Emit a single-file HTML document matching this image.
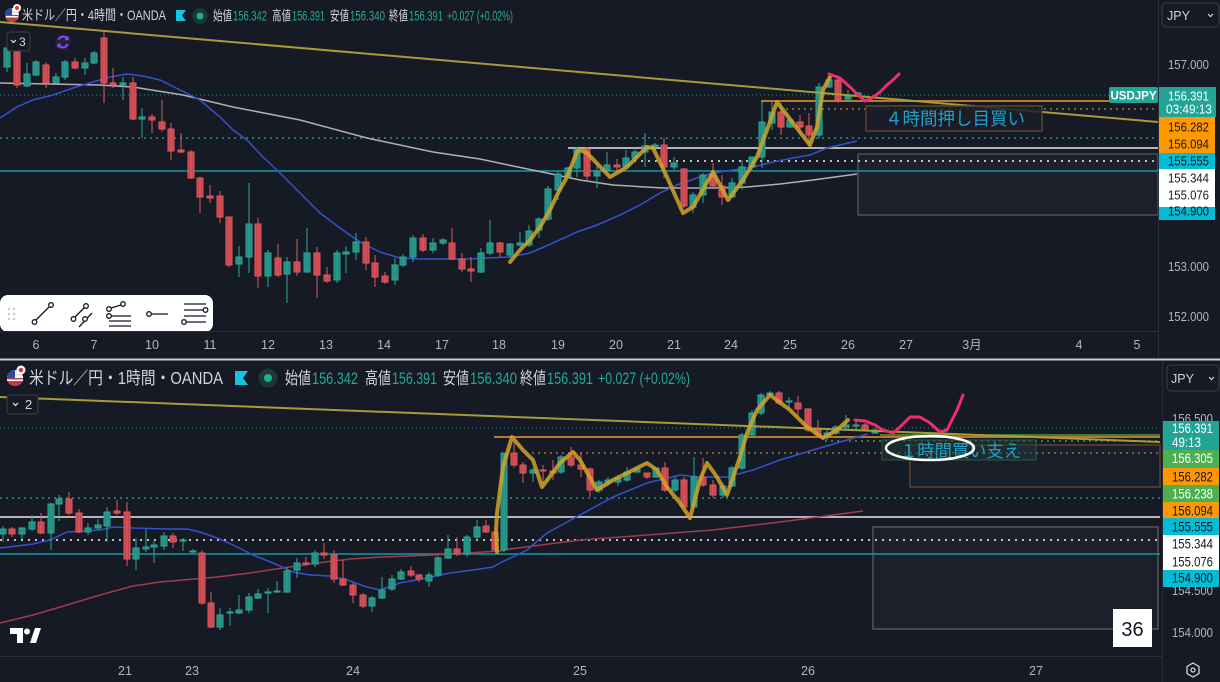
<!DOCTYPE html>
<html><head><meta charset="utf-8"><style>
html,body{margin:0;padding:0;background:#161a25;}
svg{display:block;}
text{font-family:"Liberation Sans","Noto Sans CJK JP",sans-serif;}
</style></head><body>
<svg width="1220" height="682" viewBox="0 0 1220 682" xmlns="http://www.w3.org/2000/svg">
<defs>
<clipPath id="ct"><rect x="0" y="0" width="1158" height="331"/></clipPath>
<clipPath id="cb"><rect x="0" y="361" width="1161" height="295"/></clipPath>
</defs>
<rect width="1220" height="682" fill="#161a25"/>

<!-- ================= TOP PANE ================= -->
<g clip-path="url(#ct)">
<rect x="858" y="154" width="300" height="61" fill="#1c202b" stroke="#4c505a" stroke-width="1.5"/>
<line x1="0" y1="95" x2="1158" y2="95" stroke="#2a8a85" stroke-width="1" stroke-dasharray="1 3"/>
<line x1="761" y1="101" x2="1158" y2="101" stroke="#b8782a" stroke-width="2"/>
<line x1="780" y1="109" x2="1158" y2="109" stroke="#a8703a" stroke-width="1.5" stroke-dasharray="2 4"/>
<line x1="0" y1="138" x2="1158" y2="138" stroke="#1f9690" stroke-width="1.5" stroke-dasharray="2 4"/>
<line x1="568" y1="148" x2="1158" y2="148" stroke="#b4b4b8" stroke-width="2"/>
<line x1="634" y1="161" x2="1158" y2="161" stroke="#c0c0c4" stroke-width="2" stroke-dasharray="2 5"/>
<line x1="0" y1="171" x2="1158" y2="171" stroke="#1a93a3" stroke-width="1.5"/>
<polyline fill="none" stroke="#b0b0b4" stroke-width="1.5" points="0,83 100,85 133,87 183,95 233,107 300,120 367,138 433,152 480,159 513,166 547,173 580,180 613,185 663,188 713,188 747,187 780,184 813,180 857,174"/>
<polyline fill="none" stroke="#3352cc" stroke-width="1.5" points="0,118 17,107 33,100 53,95 73,88 93,82 110,77 127,74 143,76 160,80 180,90 200,100 220,117 233,130 247,140 263,157 280,173 300,193 320,213 340,228 360,242 380,252 400,258 420,259 443,259 467,259 487,258 510,257 530,253 553,243 577,232 597,225 620,215 640,205 660,193 677,185 697,178 713,173 733,170 753,167 773,162 793,158 810,155 827,148 857,141"/>
<path fill="#1f8c80" stroke="#33a597" stroke-width="1" d="M7 48V72M4 48h6v19h-6zM27 63V87M24 74h6v12h-6zM36 60V76M33 62h6v13h-6zM56 73V84M53 77h6v6h-6zM65 60V80M62 62h6v15h-6zM85 58V75M82 63h6v5h-6zM94 51V64M91 53h6v10h-6zM123 77V100M120 83h6v2h-6zM142 108V138M139 117h6v2h-6zM239 246V277M236 257h6v7h-6zM249 183V273M246 224h6v33h-6zM268 250V287M265 253h6v23h-6zM287 257V303M284 262h6v12h-6zM307 228V273M304 253h6v19h-6zM337 250V283M334 253h6v27h-6zM346 246V273M343 252h6v2h-6zM356 233V260M353 242h6v10h-6zM395 258V285M392 265h6v15h-6zM403 254V267M400 257h6v8h-6zM413 235V262M410 238h6v19h-6zM433 238V253M430 243h6v7h-6zM443 238V245M440 240h6v3h-6zM481 248V273M478 253h6v19h-6zM490 220V255M487 243h6v10h-6zM510 243V258M507 244h6v11h-6zM520 232V247M517 243h6v2h-6zM529 225V247M526 231h6v14h-6zM539 217V238M536 219h6v11h-6zM548 186V221M545 189h6v30h-6zM558 171V200M555 174h6v16h-6zM568 167V178M565 168h6v9h-6zM577 147V177M574 149h6v19h-6zM597 164V188M594 171h6v5h-6zM607 152V173M604 165h6v6h-6zM626 150V167M623 158h6v8h-6zM635 148V160M632 152h6v6h-6zM645 133V167M642 146h6v6h-6zM655 143V150M652 145h6v2h-6zM674 157V170M671 163h6v4h-6zM693 192V213M690 195h6v12h-6zM703 173V203M700 175h6v20h-6zM732 178V198M729 183h6v14h-6zM742 160V190M739 167h6v16h-6zM752 157V170M749 157h6v10h-6zM762 101V168M759 122h6v35h-6zM772 102V130M769 112h6v11h-6zM790 118V128M787 120h6v7h-6zM819 83V139M816 87h6v48h-6zM829 76V88M826 80h6v7h-6zM848 90V101M845 96h6v3h-6zM858 92V97M855 93h6v3h-6z"/>
<path fill="#c4464c" stroke="#df5a5f" stroke-width="1" d="M17 50V88M14 52h6v33h-6zM46 62V88M43 65h6v18h-6zM75 58V69M72 62h6v6h-6zM104 32V103M101 38h6v45h-6zM113 68V88M110 83h6v2h-6zM133 77V120M130 83h6v36h-6zM152 114V133M149 117h6v3h-6zM162 100V132M159 122h6v7h-6zM171 123V160M168 129h6v22h-6zM181 133V153M178 150h6v2h-6zM191 150V179M188 152h6v26h-6zM200 177V213M197 178h6v19h-6zM210 185V203M207 196h6v2h-6zM220 191V223M217 196h6v21h-6zM229 217V267M226 217h6v48h-6zM258 218V288M255 224h6v52h-6zM278 244V277M275 258h6v17h-6zM297 239V276M294 262h6v10h-6zM317 247V298M314 253h6v22h-6zM327 267V283M324 275h6v6h-6zM366 237V270M363 242h6v21h-6zM375 255V287M372 263h6v14h-6zM385 272V284M382 276h6v6h-6zM423 234V252M420 238h6v12h-6zM452 228V260M449 243h6v16h-6zM462 253V272M459 259h6v10h-6zM471 257V282M468 269h6v2h-6zM500 242V257M497 243h6v9h-6zM587 147V180M584 149h6v27h-6zM617 159V172M614 165h6v2h-6zM664 138V178M661 145h6v22h-6zM684 168V208M681 169h6v37h-6zM713 163V188M710 175h6v11h-6zM722 175V205M719 186h6v11h-6zM781 103V135M778 112h6v15h-6zM800 115V135M797 122h6v5h-6zM809 113V146M806 126h6v9h-6zM838 78V103M835 80h6v20h-6z"/>
<line x1="0" y1="22" x2="1158" y2="122" stroke="#a69c38" stroke-width="2"/>
<polyline fill="none" stroke="#d0a428" stroke-opacity="0.85" stroke-width="4" stroke-linejoin="round" stroke-linecap="round" points="510,262 520,250 530,240 540,227 550,210 558,193 567,177 577,152 580,150 587,153 610,177 627,167 647,147 653,148 667,177 683,213 693,207 713,172 728,200 743,180 757,157 767,130 777,102 793,123 810,145 817,127 823,90 830,77"/>
<polyline fill="none" stroke="#ef2d6a" stroke-width="3" stroke-linejoin="round" stroke-linecap="round" points="829,74 840,78 850,87 858,95 865,101 872,98 880,92 887,85 893,80 899,74"/>
<rect x="866" y="106" width="176" height="25" fill="#1b1f28" fill-opacity="0.85" stroke="#5a4530" stroke-width="1.5"/>
<text x="885" y="125" font-size="18" fill="#1fa0c6" textLength="140" lengthAdjust="spacingAndGlyphs">４時間押し目買い</text>
<rect x="1109" y="87" width="49" height="16" rx="2" fill="#22a596"/>
<text x="1133.5" y="99.5" font-size="11.5" font-weight="bold" fill="#ffffff" text-anchor="middle">USDJPY</text>
</g>

<!-- header top -->
<circle cx="12" cy="15" r="7" fill="#e8e8ec"/>
<path d="M5 15a7 7 0 0 0 14 0z" fill="#c23a44"/>
<rect x="6" y="13" width="12" height="1.5" fill="#ffffff"/>
<rect x="6" y="16" width="12" height="1.5" fill="#ffffff"/>
<path d="M5 15a7 7 0 0 1 7-7v7z" fill="#2a4aa0"/>
<circle cx="17" cy="8" r="4" fill="#ffffff"/><circle cx="17" cy="8" r="2" fill="#d23a44"/>
<text x="22" y="20" font-size="14" fill="#d1d4dc" textLength="144" lengthAdjust="spacingAndGlyphs">米ドル／円・4時間・OANDA</text>
<path d="M176 10H186L182 15.5L186 21H176Z" fill="#19c3dd"/>
<circle cx="200" cy="16" r="8" fill="#1c3833"/><circle cx="200" cy="16" r="3.5" fill="#22ab94"/>
<g font-size="13.5">
<text x="213" y="20.5" fill="#d1d4dc" textLength="19" lengthAdjust="spacingAndGlyphs">始値</text>
<text x="233" y="20.5" fill="#22ab94" textLength="34" lengthAdjust="spacingAndGlyphs">156.342</text>
<text x="272" y="20.5" fill="#d1d4dc" textLength="19" lengthAdjust="spacingAndGlyphs">高値</text>
<text x="292" y="20.5" fill="#22ab94" textLength="33" lengthAdjust="spacingAndGlyphs">156.391</text>
<text x="330" y="20.5" fill="#d1d4dc" textLength="19" lengthAdjust="spacingAndGlyphs">安値</text>
<text x="350" y="20.5" fill="#22ab94" textLength="35" lengthAdjust="spacingAndGlyphs">156.340</text>
<text x="389" y="20.5" fill="#d1d4dc" textLength="19" lengthAdjust="spacingAndGlyphs">終値</text>
<text x="409" y="20.5" fill="#22ab94" textLength="34" lengthAdjust="spacingAndGlyphs">156.391</text>
<text x="447" y="20.5" fill="#22ab94" textLength="66" lengthAdjust="spacingAndGlyphs">+0.027 (+0.02%)</text>
</g>
<rect x="7" y="32" width="23" height="19" rx="3" fill="#161a25" stroke="#3a3e49"/>
<path d="M11 40l2.5 2.5L16 40" fill="none" stroke="#d1d4dc" stroke-width="1.3"/>
<text x="19" y="46" font-size="12" fill="#d1d4dc">3</text>
<circle cx="63" cy="42" r="8" fill="#241e3e"/>
<path d="M58.5 40a5 5 0 0 1 9-1M67.5 44a5 5 0 0 1-9 1" fill="none" stroke="#7d4ee0" stroke-width="2"/>
<path d="M68 36.5v3h-3M58 47.5v-3h3" fill="none" stroke="#7d4ee0" stroke-width="1.6"/>

<!-- toolbar -->
<rect x="0" y="295" width="213" height="37" rx="8" fill="#ffffff"/>
<g fill="#c8c8cc"><circle cx="9" cy="309" r="1.2"/><circle cx="14" cy="309" r="1.2"/><circle cx="9" cy="314" r="1.2"/><circle cx="14" cy="314" r="1.2"/><circle cx="9" cy="319" r="1.2"/><circle cx="14" cy="319" r="1.2"/></g>
<g fill="none" stroke="#131722" stroke-width="1.3">
<line x1="36" y1="320" x2="49" y2="307"/><circle cx="34.5" cy="322" r="2.3" fill="#fff"/><circle cx="51" cy="305" r="2.3" fill="#fff"/>
<line x1="75" y1="317" x2="84" y2="308"/><circle cx="73.5" cy="319" r="2.3" fill="#fff"/><circle cx="86" cy="306" r="2.3" fill="#fff"/>
<line x1="79" y1="327" x2="92" y2="313"/><circle cx="85" cy="319" r="2.3" fill="#fff"/>
<line x1="111" y1="308" x2="121" y2="305"/><circle cx="109" cy="309" r="2.3" fill="#fff"/><circle cx="123" cy="304" r="2.3" fill="#fff"/>
<line x1="111" y1="316" x2="131" y2="316"/><line x1="109" y1="321" x2="131" y2="321"/><line x1="109" y1="326" x2="131" y2="326"/><circle cx="109" cy="316" r="2.3" fill="#fff"/>
<line x1="151" y1="314" x2="168" y2="314"/><circle cx="149" cy="314" r="2.3" fill="#fff"/>
<line x1="184" y1="304" x2="206" y2="304"/><line x1="184" y1="310" x2="203" y2="310"/><circle cx="205.5" cy="310" r="2.3" fill="#fff"/>
<line x1="184" y1="316" x2="206" y2="316"/><line x1="186" y1="322" x2="206" y2="322"/><circle cx="184" cy="322" r="2.3" fill="#fff"/>
</g>

<!-- top time axis -->
<line x1="0" y1="331.5" x2="1158" y2="331.5" stroke="#2a2e39"/>
<g font-size="12.5" fill="#b2b5be" text-anchor="middle">
<text x="36" y="349">6</text><text x="94" y="349">7</text><text x="152" y="349">10</text><text x="210" y="349">11</text><text x="268" y="349">12</text><text x="326" y="349">13</text><text x="384" y="349">14</text><text x="442" y="349">17</text><text x="499" y="349">18</text><text x="558" y="349">19</text><text x="616" y="349">20</text><text x="674" y="349">21</text><text x="731" y="349">24</text><text x="790" y="349">25</text><text x="848" y="349">26</text><text x="906" y="349">27</text><text x="972" y="349">3月</text><text x="1079" y="349">4</text><text x="1137" y="349">5</text>
</g>

<!-- top right axis -->
<line x1="1158.5" y1="0" x2="1158.5" y2="358" stroke="#2a2e39"/>
<rect x="1162" y="3" width="57" height="24" rx="4" fill="#161a25" stroke="#3a3e49"/>
<text x="1167" y="20" font-size="12.5" fill="#d1d4dc">JPY</text>
<path d="M1208 14l2.5 2.5L1213 14" fill="none" stroke="#d1d4dc" stroke-width="1.2"/>
<g font-size="13" fill="#b2b5be">
<text x="1168" y="69" textLength="41" lengthAdjust="spacingAndGlyphs">157.000</text>
<text x="1168" y="271" textLength="41" lengthAdjust="spacingAndGlyphs">153.000</text>
<text x="1168" y="321" textLength="41" lengthAdjust="spacingAndGlyphs">152.000</text>
</g>
<rect x="1159" y="87" width="57" height="30" fill="#22a596"/>
<rect x="1159" y="117" width="56" height="36" fill="#ff9800"/>
<rect x="1159" y="153" width="56" height="16" fill="#00bcd4"/>
<rect x="1159" y="169" width="56" height="38" fill="#ffffff"/>
<rect x="1159" y="207" width="56" height="13" fill="#00bcd4"/>
<g font-size="13">
<text x="1168" y="100.5" fill="#ffffff" textLength="41" lengthAdjust="spacingAndGlyphs">156.391</text>
<text x="1166" y="113.5" fill="#ffffff" textLength="46" lengthAdjust="spacingAndGlyphs">03:49:13</text>
<text x="1168" y="131.5" fill="#131722" textLength="41" lengthAdjust="spacingAndGlyphs">156.282</text>
<text x="1168" y="148.5" fill="#131722" textLength="41" lengthAdjust="spacingAndGlyphs">156.094</text>
<text x="1168" y="165.5" fill="#131722" textLength="41" lengthAdjust="spacingAndGlyphs">155.555</text>
<text x="1168" y="182.5" fill="#131722" textLength="41" lengthAdjust="spacingAndGlyphs">155.344</text>
<text x="1168" y="199.5" fill="#131722" textLength="41" lengthAdjust="spacingAndGlyphs">155.076</text>
<text x="1168" y="215.5" fill="#131722" textLength="41" lengthAdjust="spacingAndGlyphs">154.900</text>
</g>

<!-- pane divider -->
<rect x="0" y="358.5" width="1220" height="2" fill="#c9ccd3"/>

<!-- ================= BOTTOM PANE ================= -->
<g clip-path="url(#cb)">
<rect x="873" y="527" width="285" height="102" fill="#1c202b" stroke="#50545e" stroke-width="1.5"/>
<rect x="910" y="445" width="250" height="42" fill="#1a1e28" stroke="#5a4530" stroke-width="1.5"/>
<line x1="0" y1="428" x2="1160" y2="428" stroke="#2a8a85" stroke-width="1" stroke-dasharray="1 3"/>
<line x1="880" y1="435" x2="1160" y2="435" stroke="#4a9a40" stroke-width="1.5"/>
<line x1="494" y1="437" x2="1160" y2="437" stroke="#b8782a" stroke-width="2"/>
<line x1="825" y1="441" x2="1160" y2="441" stroke="#3f9a50" stroke-width="1.5" stroke-dasharray="2 4"/>
<line x1="532" y1="453" x2="1160" y2="453" stroke="#a8703a" stroke-width="1.5" stroke-dasharray="2 4"/>
<line x1="0" y1="498" x2="1160" y2="498" stroke="#1f9690" stroke-width="1.5" stroke-dasharray="2 4"/>
<line x1="0" y1="517" x2="1160" y2="517" stroke="#b4b4b8" stroke-width="2"/>
<line x1="0" y1="540" x2="1160" y2="540" stroke="#c0c0c4" stroke-width="2" stroke-dasharray="2 5"/>
<line x1="0" y1="554" x2="1160" y2="554" stroke="#1a93a3" stroke-width="1.5"/>
<polyline fill="none" stroke="#9e3d4c" stroke-width="1.5" points="0,623 33,615 67,605 100,595 133,586 160,582 183,580 217,577 250,573 283,568 317,563 350,559 383,557 433,555 467,553 500,551 510,549 580,540 647,535 713,530 780,522 863,511"/>
<polyline fill="none" stroke="#3352cc" stroke-width="1.5" points="0,548 33,544 50,540 67,532 83,531 100,530 113,527 133,528 167,529 187,529 200,532 217,538 233,545 253,555 273,563 293,572 310,575 330,576 347,580 367,587 380,590 400,583 427,578 450,573 473,570 493,567 500,563 527,550 547,533 580,515 613,497 647,483 680,475 700,477 727,477 753,470 780,460 813,450 847,440 868,434"/>
<path fill="#1f8c80" stroke="#33a597" stroke-width="1" d="M3 526V542M0 529h6v5h-6zM22 527V539M19 528h6v6h-6zM32 515V531M29 522h6v7h-6zM51 503V550M48 504h6v29h-6zM59 495V521M56 499h6v5h-6zM88 523V535M85 528h6v4h-6zM98 519V530M95 525h6v3h-6zM107 507V542M104 512h6v14h-6zM136 538V570M133 548h6v11h-6zM146 529V552M143 547h6v2h-6zM154 540V563M151 545h6v2h-6zM164 532V550M161 536h6v10h-6zM183 538V551M180 540h6v1h-6zM193 549V553M190 551h6v1h-6zM220 608V630M217 615h6v12h-6zM230 608V626M227 612h6v1h-6zM239 595V614M236 610h6v3h-6zM249 593V613M246 597h6v13h-6zM258 589V599M255 594h6v4h-6zM268 588V613M265 592h6v1h-6zM277 581V593M274 591h6v1h-6zM287 567V593M284 571h6v21h-6zM297 558V578M294 563h6v7h-6zM315 550V567M312 553h6v11h-6zM372 596V612M369 598h6v8h-6zM382 577V599M379 590h6v8h-6zM392 575V591M389 579h6v10h-6zM401 569V580M398 572h6v7h-6zM429 572V587M426 575h6v6h-6zM438 556V577M435 558h6v17h-6zM448 535V559M445 549h6v9h-6zM467 535V557M464 537h6v17h-6zM477 520V540M474 527h6v10h-6zM504 453V552M501 453h6v97h-6zM533 468V482M530 470h6v3h-6zM561 455V474M558 457h6v15h-6zM599 480V493M596 482h6v8h-6zM608 477V486M605 480h6v3h-6zM618 475V486M615 478h6v4h-6zM627 467V482M624 472h6v8h-6zM637 467V473M634 469h6v3h-6zM656 467V478M653 468h6v9h-6zM675 477V492M672 480h6v10h-6zM694 457V508M691 477h6v30h-6zM723 483V498M720 486h6v9h-6zM732 466V487M729 468h6v18h-6zM742 433V470M739 435h6v33h-6zM752 410V437M749 413h6v22h-6zM761 393V415M758 395h6v18h-6zM770 391V397M767 393h6v2h-6zM789 397V408M786 401h6v1h-6zM827 430V440M824 433h6v3h-6zM836 425V435M833 427h6v6h-6zM846 415V430M843 425h6v2h-6zM856 420V430M853 425h6v1h-6zM875 428V434M872 430h6v3h-6z"/>
<path fill="#c4464c" stroke="#df5a5f" stroke-width="1" d="M12 527V537M9 529h6v5h-6zM41 513V534M38 522h6v11h-6zM69 492V515M66 499h6v14h-6zM79 509V533M76 513h6v19h-6zM117 500V515M114 511h6v2h-6zM127 502V566M124 512h6v47h-6zM173 533V548M170 536h6v6h-6zM202 550V605M199 553h6v50h-6zM211 592V628M208 603h6v24h-6zM306 557V566M303 563h6v1h-6zM324 543V559M321 553h6v2h-6zM334 550V583M331 555h6v24h-6zM343 560V586M340 579h6v6h-6zM353 583V603M350 585h6v10h-6zM363 593V608M360 595h6v11h-6zM411 566V577M408 571h6v4h-6zM419 574V582M416 575h6v4h-6zM457 537V556M454 549h6v5h-6zM486 520V533M483 526h6v6h-6zM495 531V551M492 532h6v18h-6zM514 442V468M511 453h6v12h-6zM523 462V483M520 465h6v8h-6zM543 465V483M540 470h6v1h-6zM553 460V480M550 471h6v2h-6zM571 447V467M568 457h6v8h-6zM581 453V477M578 465h6v4h-6zM590 467V497M587 469h6v21h-6zM647 473V479M644 473h6v4h-6zM665 462V492M662 468h6v22h-6zM684 477V508M681 480h6v27h-6zM703 458V487M700 477h6v8h-6zM713 480V498M710 485h6v10h-6zM779 391V405M776 393h6v10h-6zM798 396V417M795 403h6v6h-6zM808 408V432M805 409h6v21h-6zM818 420V438M815 430h6v5h-6zM865 423V431M862 425h6v5h-6z"/>
<line x1="0" y1="397" x2="1160" y2="442" stroke="#a69c38" stroke-width="2"/>
<polyline fill="none" stroke="#d0a428" stroke-opacity="0.85" stroke-width="4" stroke-linejoin="round" stroke-linecap="round" points="497,552 496,530 497,513 503,467 512,437 517,443 523,450 533,460 542,487 560,463 573,452 580,460 597,490 613,480 633,470 647,463 657,470 667,487 680,503 690,518 700,480 707,463 717,477 727,495 740,457 747,433 757,410 770,395 790,410 807,427 823,438 837,430 848,420"/>
<polyline fill="none" stroke="#ef2d6a" stroke-width="3" stroke-linejoin="round" stroke-linecap="round" points="855,420 865,421 875,425 883,430 893,433 900,427 910,417 920,417 930,423 940,432 947,430 952,420 957,410 961,400 963,395"/>
<rect x="882" y="440" width="154" height="20" fill="#1e3a36" fill-opacity="0.55" stroke="#2f5a48" stroke-width="1"/>
<text x="900" y="457" font-size="17.5" fill="#1fa0c6" textLength="121" lengthAdjust="spacingAndGlyphs">１時間買い支え</text>
<ellipse cx="930" cy="448" rx="44" ry="12" fill="none" stroke="#ffffff" stroke-width="2.5"/>
</g>

<!-- bottom header -->
<circle cx="15" cy="378" r="8" fill="#e8e8ec"/>
<path d="M7 378a8 8 0 0 0 16 0z" fill="#c23a44"/>
<rect x="7" y="376" width="16" height="1.5" fill="#ffffff"/>
<rect x="7" y="379.5" width="16" height="1.5" fill="#ffffff"/>
<path d="M7 378a8 8 0 0 1 8-8v8z" fill="#2a4aa0"/>
<circle cx="21" cy="370" r="4.5" fill="#ffffff"/><circle cx="21" cy="370" r="2.3" fill="#d23a44"/>
<text x="29" y="384" font-size="17.5" fill="#d1d4dc" textLength="194" lengthAdjust="spacingAndGlyphs">米ドル／円・1時間・OANDA</text>
<path d="M235 371H248L243 378L248 385H235Z" fill="#19c3dd"/>
<circle cx="268" cy="378" r="9.5" fill="#1c3833"/><circle cx="268" cy="378" r="4" fill="#22ab94"/>
<g font-size="17">
<text x="285" y="384" fill="#d1d4dc" textLength="26" lengthAdjust="spacingAndGlyphs">始値</text>
<text x="312" y="384" fill="#22ab94" textLength="46" lengthAdjust="spacingAndGlyphs">156.342</text>
<text x="365" y="384" fill="#d1d4dc" textLength="26" lengthAdjust="spacingAndGlyphs">高値</text>
<text x="392" y="384" fill="#22ab94" textLength="45" lengthAdjust="spacingAndGlyphs">156.391</text>
<text x="443" y="384" fill="#d1d4dc" textLength="26" lengthAdjust="spacingAndGlyphs">安値</text>
<text x="470" y="384" fill="#22ab94" textLength="47" lengthAdjust="spacingAndGlyphs">156.340</text>
<text x="520" y="384" fill="#d1d4dc" textLength="26" lengthAdjust="spacingAndGlyphs">終値</text>
<text x="547" y="384" fill="#22ab94" textLength="46" lengthAdjust="spacingAndGlyphs">156.391</text>
<text x="598" y="384" fill="#22ab94" textLength="92" lengthAdjust="spacingAndGlyphs">+0.027 (+0.02%)</text>
</g>
<rect x="7" y="395" width="31" height="19" rx="3" fill="#161a25" stroke="#3a3e49"/>
<path d="M13 403l2.5 2.5L18 403" fill="none" stroke="#d1d4dc" stroke-width="1.3"/>
<text x="25" y="409" font-size="13" fill="#d1d4dc">2</text>

<!-- TV logo -->
<path d="M10 628h13v15h-6v-9h-7z" fill="#ffffff"/>
<circle cx="27" cy="631.5" r="3" fill="#ffffff"/>
<path d="M30 643L35 628H41L36 643Z" fill="#ffffff"/>

<!-- 36 box -->
<rect x="1113" y="609" width="39" height="38" fill="#ffffff"/>
<text x="1132.5" y="636" font-size="20" fill="#131722" text-anchor="middle">36</text>

<!-- bottom time axis -->
<line x1="0" y1="656.5" x2="1162" y2="656.5" stroke="#2a2e39"/>
<g font-size="12.5" fill="#b2b5be" text-anchor="middle">
<text x="125" y="675">21</text><text x="192" y="675">23</text><text x="353" y="675">24</text><text x="580" y="675">25</text><text x="808" y="675">26</text><text x="1036" y="675">27</text>
</g>

<!-- bottom right axis -->
<line x1="1162.5" y1="361" x2="1162.5" y2="682" stroke="#2a2e39"/>
<rect x="1167" y="365" width="52" height="26" rx="4" fill="#161a25" stroke="#3a3e49"/>
<text x="1171" y="383" font-size="12.5" fill="#d1d4dc">JPY</text>
<path d="M1209 377l2.5 2.5L1214 377" fill="none" stroke="#d1d4dc" stroke-width="1.2"/>
<g font-size="13" fill="#b2b5be">
<text x="1172" y="423" textLength="41" lengthAdjust="spacingAndGlyphs">156.500</text>
<text x="1172" y="595" textLength="41" lengthAdjust="spacingAndGlyphs">154.500</text>
<text x="1172" y="637" textLength="41" lengthAdjust="spacingAndGlyphs">154.000</text>
</g>
<rect x="1163" y="421" width="56" height="29" fill="#22a596"/>
<rect x="1163" y="450" width="56" height="18" fill="#4caf50"/>
<rect x="1163" y="468" width="56" height="17" fill="#ff9800"/>
<rect x="1163" y="485" width="56" height="17" fill="#4caf50"/>
<rect x="1163" y="502" width="56" height="16" fill="#ff9800"/>
<rect x="1163" y="518" width="56" height="17" fill="#00bcd4"/>
<rect x="1163" y="535" width="56" height="35" fill="#ffffff"/>
<rect x="1163" y="570" width="56" height="17" fill="#00bcd4"/>
<g font-size="13.5">
<text x="1172" y="433" fill="#ffffff" textLength="41" lengthAdjust="spacingAndGlyphs">156.391</text>
<text x="1172" y="447" fill="#ffffff" textLength="29" lengthAdjust="spacingAndGlyphs">49:13</text>
<text x="1172" y="463" fill="#ffffff" textLength="41" lengthAdjust="spacingAndGlyphs">156.305</text>
<text x="1172" y="481.5" fill="#131722" textLength="41" lengthAdjust="spacingAndGlyphs">156.282</text>
<text x="1172" y="498.5" fill="#ffffff" textLength="41" lengthAdjust="spacingAndGlyphs">156.238</text>
<text x="1172" y="515.5" fill="#131722" textLength="41" lengthAdjust="spacingAndGlyphs">156.094</text>
<text x="1172" y="531.5" fill="#131722" textLength="41" lengthAdjust="spacingAndGlyphs">155.555</text>
<text x="1172" y="548.5" fill="#131722" textLength="41" lengthAdjust="spacingAndGlyphs">155.344</text>
<text x="1172" y="566.5" fill="#131722" textLength="41" lengthAdjust="spacingAndGlyphs">155.076</text>
<text x="1172" y="582.5" fill="#131722" textLength="41" lengthAdjust="spacingAndGlyphs">154.900</text>
</g>
<path d="M1193 663l6 3.5v7l-6 3.5-6-3.5v-7z" fill="none" stroke="#d1d4dc" stroke-width="1.3"/>
<circle cx="1193" cy="670" r="2" fill="none" stroke="#d1d4dc" stroke-width="1.3"/>
</svg>
</body></html>
